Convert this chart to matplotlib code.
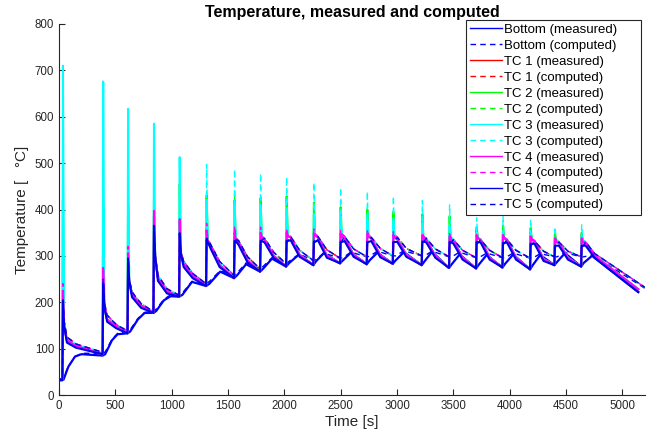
import matplotlib
matplotlib.use('Agg')
import matplotlib.pyplot as plt
import numpy as np

plt.rcParams['font.family'] = ['Liberation Sans', 'DejaVu Sans']

# spike (heating) times in s
spike_t = [30, 387, 608, 838, 1066, 1305, 1553, 1784, 2015, 2257,
           2494, 2731, 2962, 3219, 3461, 3701, 3935, 4180, 4396, 4633]

# measured thermocouples: value at spike start, after 15 s, 40 s and 120 s
trough_m = [32, 88, 133, 177, 212, 235, 252, 266, 277, 280,
            284, 282, 283, 280, 274, 273, 275, 271, 280, 277]
fast_a = [150, 190, 245, 300, 305, 330, 335, 338, 342, 345,
          342, 342, 340, 338, 335, 338, 338, 335, 330, 330]
knee_a = [118, 163, 217, 252, 282, 322, 330, 335, 340, 340,
          338, 338, 336, 335, 332, 335, 335, 332, 328, 328]
knee_b = [113, 158, 211, 246, 276, 316, 324, 329, 334, 334,
          332, 332, 330, 329, 326, 329, 329, 326, 322, 322]
mid_a = [106, 148, 193, 224, 257, 280, 290, 300, 302, 300,
         302, 301, 302, 300, 296, 296, 296, 293, 296, 300]
mid_b = [102, 144, 188, 219, 252, 276, 286, 296, 298, 296,
         298, 297, 298, 296, 292, 292, 292, 289, 292, 296]
end_m = (5140, 228, 222)

# measured peaks
peak_tc1_m = [215, 262, 300, 385, 370, 360, 355, 355, 352, 352,
              352, 350, 350, 350, 348, 355, 352, 350, 345, 345]
peak_tc2_m = [420, 410, 410, 420, 455, 430, 420, 425, 428, 415,
              405, 400, 395, 390, 385, 362, 365, 360, 348, 350]
peak_tc3_m = [710, 676, 617, 585, 513, 420, 410, 405, 400, 390,
              385, 380, 375, 370, 365, 350, 352, 348, 340, 342]
peak_tc4_m = [225, 272, 306, 397, 378, 355, 350, 350, 350, 348,
              348, 348, 345, 345, 342, 345, 345, 342, 338, 338]
peak_tc5_m = [198, 241, 290, 365, 349, 335, 332, 332, 332, 330,
              330, 330, 330, 331, 330, 330, 328, 326, 322, 322]

# computed thermocouples
trough_c = [32, 92, 138, 180, 215, 240, 258, 272, 283, 290,
            295, 298, 300, 300, 298, 296, 296, 295, 298, 298]
fast_c = [160, 200, 250, 300, 310, 335, 340, 342, 345, 348,
          348, 346, 345, 342, 340, 340, 340, 338, 335, 335]
knee_c = [125, 172, 222, 258, 288, 325, 333, 338, 342, 342,
          342, 340, 340, 338, 335, 335, 335, 332, 330, 330]
mid_c = [110, 152, 197, 229, 262, 288, 298, 308, 312, 313,
         315, 316, 316, 315, 312, 312, 312, 310, 310, 305]
end_c = (5200, 232)

peak_tc1_c = [230, 270, 310, 380, 372, 365, 360, 358, 356, 354,
              352, 350, 348, 346, 344, 342, 342, 340, 336, 336]
peak_tc2_c = [420, 400, 400, 410, 420, 440, 432, 425, 420, 410,
              400, 395, 388, 380, 372, 358, 360, 355, 345, 348]
peak_tc3_c = [600, 560, 530, 500, 480, 497, 487, 478, 470, 458,
              447, 439, 429, 419, 410, 382, 385, 379, 363, 367]
peak_tc4_c = [240, 280, 320, 390, 380, 370, 365, 362, 360, 358,
              356, 354, 352, 350, 348, 345, 345, 342, 338, 338]
peak_tc5_c = [210, 250, 295, 360, 345, 338, 335, 334, 333, 332,
              331, 330, 330, 329, 328, 327, 326, 324, 320, 320]

# bottom temperature
bot_t = [0, 40, 83, 142, 200, 387, 410, 470, 520, 608, 632, 700, 760, 838,
         862, 930, 990, 1066, 1095, 1180, 1305, 1335, 1430, 1553, 1580, 1660,
         1784, 1810, 1890, 2015, 2040, 2130, 2257, 2280, 2350, 2494, 2518,
         2590, 2731, 2755, 2825, 2962, 2986, 3060, 3219, 3243, 3310, 3461,
         3485, 3555, 3701, 3725, 3795, 3935, 3959, 4030, 4180, 4204, 4270,
         4396, 4420, 4490, 4633, 4657, 4730, 5140]
bot_m = [34, 33, 61, 83, 88, 85, 88, 118, 131, 133, 137, 163, 177, 177,
         181, 204, 213, 212, 216, 244, 235, 240, 266, 252, 258, 282,
         266, 272, 294, 277, 284, 303, 280, 288, 306, 284, 290,
         307, 282, 290, 307, 283, 290, 308, 280, 288, 309, 274,
         282, 303, 273, 281, 302, 275, 283, 303, 271, 280, 302,
         280, 287, 306, 277, 285, 300, 222]
bot_c_t = bot_t[:-1] + [5200]
bot_c = [34, 36, 62, 82, 90, 90, 93, 120, 133, 138, 141, 165, 178, 181,
         185, 206, 216, 216, 220, 245, 240, 245, 268, 258, 263, 285,
         272, 277, 296, 283, 288, 304, 290, 292, 306, 295, 296,
         308, 298, 299, 310, 300, 300, 311, 300, 300, 310, 298,
         298, 308, 296, 296, 306, 296, 296, 306, 295, 295, 305,
         298, 298, 307, 298, 298, 302, 230]


def tc_curve(trough, peak, fast, knee, mid, t_end, v_end):
    t = [0]
    v = [trough[0]]
    for ts, lo, hi, fa, kn, md in zip(spike_t, trough, peak, fast, knee, mid):
        t += [ts, ts + 5, ts + 15, ts + 40, ts + 120]
        v += [lo, hi, min(fa, hi), kn, md]
    t.append(t_end)
    v.append(v_end)
    return t, v


fig = plt.figure(figsize=(6.49, 4.32), dpi=100)
ax = fig.add_axes([59 / 649, 37 / 432, 586 / 649, 371 / 432])

blue = (0, 0, 1)
cols = [(1, 0, 0), (0, 1, 0), (0, 1, 1), (1, 0, 1), (0, 0, 0.9)]
peaks_m = [peak_tc1_m, peak_tc2_m, peak_tc3_m, peak_tc4_m, peak_tc5_m]
peaks_c = [peak_tc1_c, peak_tc2_c, peak_tc3_c, peak_tc4_c, peak_tc5_c]
dash = (0, (4, 3))

ax.plot(bot_t, bot_m, color=blue, lw=1.6, label='Bottom (measured)')
ax.plot(bot_c_t, bot_c, color=blue, lw=1.0, ls=dash, label='Bottom (computed)')
for i in range(5):
    kn = knee_b if i == 4 else knee_a
    md = mid_b if i == 4 else mid_a
    e = end_m[2] if i == 4 else end_m[1]
    tm, vm = tc_curve(trough_m, peaks_m[i], fast_a, kn, md, end_m[0], e)
    tc, vc = tc_curve(trough_c, peaks_c[i], fast_c, knee_c, mid_c, end_c[0], end_c[1])
    ax.plot(tm, vm, color=cols[i], lw=1.5, label='TC %d (measured)' % (i + 1))
    ax.plot(tc, vc, color=cols[i], lw=1.0, ls=dash, label='TC %d (computed)' % (i + 1))

ax.set_xlim(0, 5200)
ax.set_ylim(0, 800)
ax.set_xticks(np.arange(0, 5001, 500))
ax.set_yticks(np.arange(0, 801, 100))
for s in ['top', 'right']:
    ax.spines[s].set_visible(False)
for s in ['left', 'bottom']:
    ax.spines[s].set_color('0.15')
    ax.spines[s].set_linewidth(0.8)
ax.tick_params(direction='in', length=4, width=0.8, colors='0.15', labelsize=8.3)

ax.set_title('Temperature, measured and computed', fontsize=11.5, fontweight='bold', pad=5)
ax.set_xlabel('Time [s]', fontsize=11, color='0.15', labelpad=2)
ax.set_ylabel('Temperature [   °C]', fontsize=11, color='0.15', labelpad=4)

leg = ax.legend(loc='upper left', bbox_to_anchor=(0.6945, 0.5, 0.2986, 0.511),
                mode='expand', fontsize=9.5, labelspacing=0.28, handlelength=2.4,
                handletextpad=0.2, borderpad=0.3, borderaxespad=0,
                fancybox=False, framealpha=1)
leg.get_frame().set_edgecolor('0.15')
leg.get_frame().set_linewidth(0.8)
for h in leg.get_lines():
    h.set_linewidth(1.0)

fig.savefig('out.png', dpi=100)
